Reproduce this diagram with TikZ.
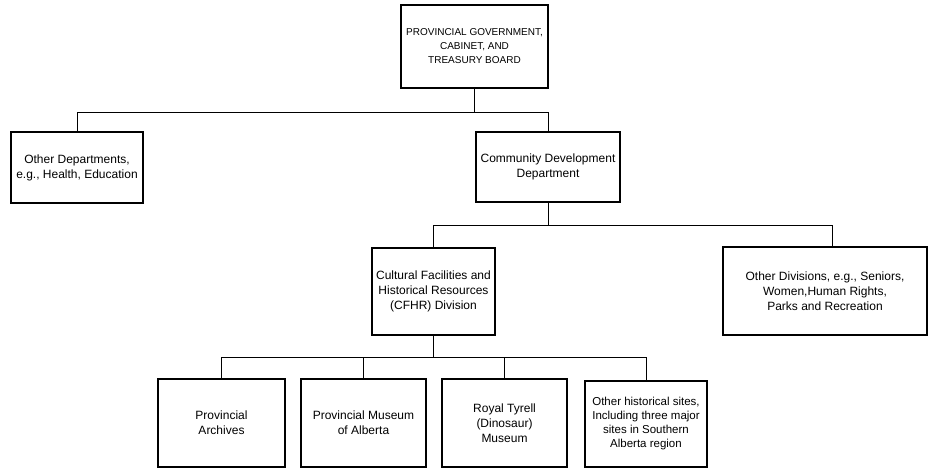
\documentclass[tikz,border=0pt]{standalone}
\usepackage{fontspec}
\setmainfont{Liberation Sans}
\begin{document}
\begin{tikzpicture}[x=1pt,y=-1pt,
  box/.style={draw, line width=1.2pt, align=center, inner sep=1pt,
    font=\fontsize{12}{15}\selectfont},
  link/.style={line width=0.9pt}]
\useasboundingbox (0,0) rectangle (928,469);
% boxes
\node[box, minimum width=147, minimum height=83, font=\fontsize{10}{14}\selectfont] (top) at (474.5,46.5)
  {PROVINCIAL GOVERNMENT,\\CABINET, AND\\TREASURY BOARD};
\node[box, minimum width=132, minimum height=71] (left) at (77,167.5)
  {Other Departments,\\e.g., Health, Education};
\node[box, minimum width=144, minimum height=70] (comm) at (548,167)
  {Community Development\\Department};
\node[box, minimum width=123, minimum height=87] (cfhr) at (433.5,291.5)
  {Cultural Facilities and\\Historical Resources\\(CFHR) Division};
\node[box, minimum width=204, minimum height=88] (oth) at (825,291)
  {Other Divisions, e.g., Seniors,\\Women,Human Rights,\\Parks and Recreation};
\node[box, minimum width=127, minimum height=88] (b1) at (221.5,423)
  {Provincial\\Archives};
\node[box, minimum width=125, minimum height=88] (b2) at (363.5,423)
  {Provincial Museum\\of Alberta};
\node[box, minimum width=125, minimum height=88] (b3) at (504.5,423)
  {Royal Tyrell\\(Dinosaur)\\Museum};
\node[box, minimum width=122, minimum height=86, font=\fontsize{11.5}{14}\selectfont] (b4) at (646,424)
  {Other historical sites,\\Including three major\\sites in Southern\\Alberta region};
% junctions
\coordinate (j1) at (473,112);
\coordinate (j2) at (0,225);
\coordinate (j3) at (0,357);
\coordinate (othtop) at (832,247);
% connectors
\draw[link] (top.south) -- (top.south |- j1);
\draw[link] (left.north) |- (comm.north |- j1) -- (comm.north);
\draw[link] (comm.south) -- (comm.south |- j2);
\draw[link] (cfhr.north) |- (othtop |- j2) -- (othtop);
\draw[link] (cfhr.south) -- (cfhr.south |- j3);
\draw[link] (b1.north) |- (b4.north |- j3) -- (b4.north);
\draw[link] (b2.north) -- (b2.north |- j3);
\draw[link] (b3.north) -- (b3.north |- j3);
\end{tikzpicture}
\end{document}
